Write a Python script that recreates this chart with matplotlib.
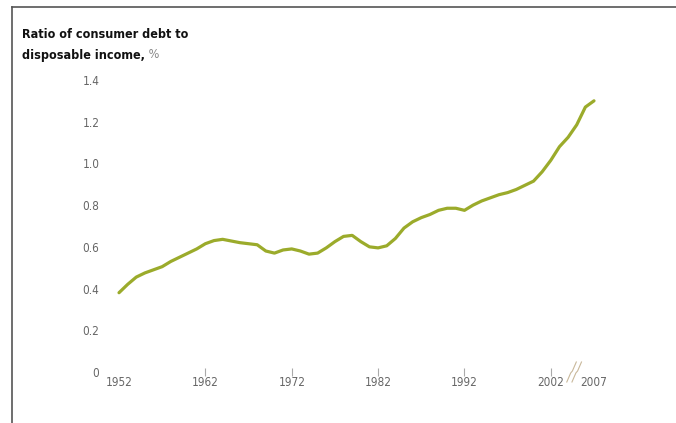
import numpy as np
import matplotlib
matplotlib.use("Agg")
import matplotlib.pyplot as plt
from matplotlib.lines import Line2D
from matplotlib import font_manager
import matplotlib.transforms as mtransforms

years = np.arange(1952, 2008)
ratio = [0.38, 0.42, 0.455, 0.475, 0.49, 0.505, 0.53, 0.55, 0.57, 0.59,
         0.615, 0.63, 0.636, 0.628, 0.62, 0.615, 0.61, 0.58, 0.57, 0.585,
         0.59, 0.58, 0.565, 0.57, 0.595, 0.625, 0.65, 0.655, 0.625, 0.60,
         0.595, 0.605, 0.64, 0.69, 0.72, 0.74, 0.755, 0.775, 0.785, 0.785,
         0.775, 0.80, 0.82, 0.835, 0.85, 0.86, 0.875, 0.895, 0.915, 0.96,
         1.015, 1.08, 1.125, 1.185, 1.27, 1.30]
tick_years = [1962, 1972, 1982, 1992, 2002]
label_years = [1952, 1962, 1972, 1982, 1992, 2002, 2007]
yticks = [0, 0.2, 0.4, 0.6, 0.8, 1.0, 1.2, 1.4]
ylabels = ['0', '0.2', '0.4', '0.6', '0.8', '1.0', '1.2', '1.4']

# pick a narrow font if one is installed
names = {f.name for f in font_manager.fontManager.ttflist}
narrow = [f for f in font_manager.fontManager.ttflist
          if f.name == 'DejaVu Sans' and 'ondensed' in str(f.stretch) + f.fname]
if 'Liberation Sans Narrow' in names:
    fam, stretch = 'Liberation Sans Narrow', 'normal'
elif narrow:
    fam, stretch = 'DejaVu Sans', 'condensed'
else:
    fam, stretch = 'Liberation Sans', 'normal'
plt.rcParams['font.family'] = [fam, 'DejaVu Sans']
plt.rcParams['font.stretch'] = stretch

W, H = 676, 423
fig = plt.figure(figsize=(W / 100, H / 100), dpi=100)
fig.patch.set_facecolor('white')

left, right, top, bottom = 105, 615, 75, 372
ax = fig.add_axes([left / W, 1 - bottom / H, (right - left) / W, (bottom - top) / H])
pxyr = (594 - 119) / (2007 - 1952)
x0 = 1952 - (119 - left) / pxyr
ax.set_xlim(x0, x0 + (right - left) / pxyr)
ax.set_ylim(0, (bottom - top) / 208.6)

ax.plot(years, ratio, color='#9bab2b', lw=2.3, solid_joinstyle='round',
        solid_capstyle='round')

for s in ax.spines.values():
    s.set_visible(False)

ax.set_yticks(yticks)
ax.set_yticklabels(ylabels)
ax.tick_params(axis='y', length=0, pad=4, labelsize=8.5, labelcolor='#666666')

ax.set_xticks(label_years)
ax.set_xticklabels([str(y) for y in label_years])
ax.tick_params(axis='x', length=0, pad=3, labelsize=8.5, labelcolor='#666666')
ax.plot(tick_years, [0] * len(tick_years), linestyle='none', marker='|',
        markersize=6, color='#aaaaaa', markeredgewidth=0.8, clip_on=False)

# axis break mark between 2002 and 2007
trans = mtransforms.blended_transform_factory(ax.transData, fig.transFigure)
bx = 2004.7
for dx in (-0.3, 0.3):
    xs = np.array([-0.55, -0.1, 0.1, 0.55]) + bx + dx
    ys = 1 - np.array([382, 373, 371, 362]) / H
    ax.add_line(Line2D(xs, ys, transform=trans, color='#c9b89a', lw=0.8,
                       clip_on=False))

# title
t1 = fig.text(22 / W, 1 - 34 / H, 'Ratio of consumer debt to', fontsize=9,
              fontweight='bold', color='#111111', va='center', ha='left')
t2 = fig.text(22 / W, 1 - 55 / H, 'disposable income,', fontsize=9,
              fontweight='bold', color='#111111', va='center', ha='left')
fig.add_artist(plt.Annotation(' %', xy=(1, 0), xycoords=t2, va='bottom',
                              fontsize=9, color='#888888'))

# frame lines
fig.add_artist(Line2D([12 / W, 1], [1 - 7 / H, 1 - 7 / H], color='#555555', lw=1.2))
fig.add_artist(Line2D([12 / W, 12 / W], [0, 1 - 7 / H], color='#555555', lw=1.2))

fig.savefig('out.png', dpi=100)
